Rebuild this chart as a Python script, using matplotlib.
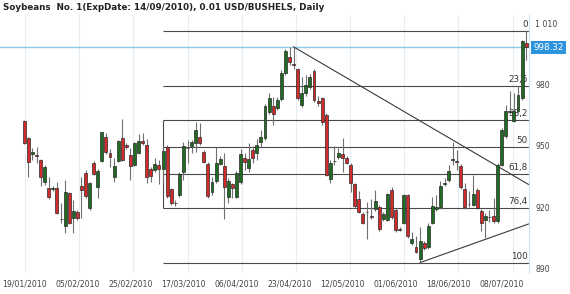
import matplotlib
matplotlib.use("Agg")
import matplotlib.pyplot as plt
import matplotlib.transforms as mtransforms
import numpy as np

title = "Soybeans  No. 1(ExpDate: 14/09/2010), 0.01 USD/BUSHELS, Daily"

opens = [962.3, 953.7, 945.8, 945.5, 942.9, 932.1, 929.3, 928.9, 929.2, 914.0,
         910.7, 926.8, 914.5, 917.7, 930.3, 936.8, 919.4, 941.7, 929.6, 942.6,
         954.5, 946.6, 934.6, 942.7, 953.7, 950.2, 945.5, 940.6, 946.7, 952.2,
         950.4, 938.6, 938.0, 940.6, 938.5, 949.6, 928.7, 921.8, 925.9, 937.3,
         948.7, 949.9, 951.5, 954.5, 947.1, 941.1, 927.5, 932.9, 941.1, 940.1,
         924.9, 931.3, 925.1, 932.4, 944.2, 939.3, 948.0, 946.3, 952.0, 953.7,
         966.4, 969.5, 968.4, 972.8, 985.5, 993.6, 990.1, 987.5, 970.0, 975.7,
         979.0, 986.8, 972.1, 973.3, 965.1, 933.6, 942.6, 944.4, 946.0, 944.2,
         940.6, 931.3, 923.8, 916.5, 917.8, 915.4, 918.9, 919.9, 914.0, 913.7,
         928.4, 918.6, 909.3, 912.4, 925.9, 902.3, 900.3, 894.4, 902.6, 900.3,
         912.2, 918.9, 919.9, 931.3, 933.4, 943.3, 942.6, 940.3, 929.0, 921.5,
         921.2, 928.5, 918.2, 913.8, 914.9, 915.5, 913.0, 940.8, 954.7, 966.8,
         962.3, 966.9, 973.4, 1000.4]
highs = [962.8, 954.2, 948.9, 949.4, 943.5, 940.6, 934.6, 930.3, 932.3, 921.9,
         933.3, 927.5, 923.5, 918.5, 934.9, 938.2, 932.5, 942.5, 938.5, 957.0,
         956.3, 948.4, 943.9, 953.0, 963.1, 951.4, 948.8, 952.0, 955.8, 956.1,
         953.2, 939.5, 944.0, 943.1, 949.6, 950.5, 929.5, 923.5, 937.0, 952.0,
         952.9, 953.0, 961.5, 961.0, 948.0, 942.0, 934.9, 949.6, 945.0, 946.3,
         934.0, 932.0, 937.5, 948.3, 946.3, 951.2, 950.1, 953.2, 957.8, 970.5,
         976.0, 974.1, 974.0, 987.0, 997.5, 998.2, 998.5, 988.0, 983.9, 984.7,
         985.0, 987.5, 974.4, 974.0, 966.0, 943.0, 950.1, 948.8, 954.0, 945.0,
         941.5, 932.0, 927.9, 917.5, 922.6, 923.8, 928.4, 921.0, 917.5, 927.0,
         930.0, 919.5, 910.0, 926.5, 926.5, 908.0, 905.8, 910.4, 903.5, 912.1,
         925.1, 926.1, 932.8, 934.2, 940.8, 951.9, 948.1, 941.0, 931.8, 927.7,
         935.9, 929.5, 919.0, 917.0, 918.7, 924.4, 941.5, 958.5, 970.1, 976.7,
         975.9, 979.1, 1002.0, 1006.1]
lows = [950.8, 934.9, 943.1, 941.4, 930.3, 930.8, 924.0, 927.9, 916.6, 912.1,
        907.2, 911.5, 907.2, 913.5, 914.5, 924.5, 918.5, 935.5, 924.3, 942.0,
        946.0, 939.8, 932.4, 942.0, 942.5, 948.4, 933.3, 940.0, 946.0, 950.5,
        931.6, 932.3, 937.0, 931.3, 932.4, 924.5, 921.0, 920.5, 925.0, 933.3,
        941.4, 946.5, 947.1, 950.5, 941.5, 924.5, 925.9, 932.0, 940.5, 914.2,
        922.0, 924.4, 924.5, 931.5, 938.2, 937.3, 941.4, 943.1, 949.6, 953.0,
        965.5, 960.2, 967.5, 972.0, 984.5, 989.6, 987.5, 972.4, 969.0, 974.5,
        978.0, 971.5, 969.5, 960.2, 935.2, 931.6, 940.6, 943.5, 937.3, 941.0,
        927.5, 919.5, 917.0, 911.5, 904.2, 914.2, 918.0, 908.5, 913.0, 913.0,
        914.0, 908.0, 908.5, 911.5, 905.0, 901.5, 897.5, 892.8, 899.0, 899.5,
        911.5, 918.0, 919.0, 930.3, 932.5, 940.6, 938.2, 929.0, 919.0, 920.0,
        920.5, 919.0, 908.1, 904.7, 912.7, 912.0, 912.0, 940.0, 954.0, 965.6,
        961.5, 966.0, 972.5, 992.2]
closes = [951.2, 941.9, 947.0, 944.8, 934.9, 939.5, 924.8, 929.3, 917.0, 914.2,
          927.4, 912.4, 918.1, 914.5, 928.4, 925.4, 931.6, 936.2, 937.7, 956.6,
          946.8, 944.4, 940.1, 952.4, 943.1, 949.4, 940.1, 951.5, 952.2, 951.2,
          934.9, 935.2, 941.1, 938.5, 947.5, 925.4, 921.9, 922.0, 936.2, 950.1,
          948.8, 952.0, 957.7, 951.5, 942.2, 925.4, 932.4, 941.7, 943.5, 929.8,
          932.8, 929.2, 936.8, 945.8, 942.2, 943.4, 943.9, 950.4, 954.2, 969.5,
          973.6, 965.6, 972.4, 985.8, 996.6, 990.9, 989.8, 973.3, 976.0, 979.8,
          983.9, 972.4, 970.8, 961.8, 935.7, 941.7, 942.7, 946.3, 944.2, 941.7,
          931.6, 920.5, 917.7, 912.4, 917.6, 915.1, 923.0, 909.1, 916.5, 926.4,
          915.0, 908.8, 909.0, 925.9, 905.8, 904.2, 898.2, 903.4, 899.8, 910.7,
          920.3, 920.0, 930.2, 931.6, 937.8, 943.6, 942.3, 929.7, 919.9, 921.4,
          926.4, 919.6, 912.2, 915.5, 915.1, 913.0, 940.8, 957.9, 966.9, 967.1,
          966.9, 975.0, 1001.2, 998.32]

date_labels = ["19/01/2010", "05/02/2010", "25/02/2010", "17/03/2010", "06/04/2010",
               "23/04/2010", "12/05/2010", "01/06/2010", "18/06/2010", "08/07/2010"]
date_label_bars = [0, 13, 26, 39, 52, 65, 78, 91, 104, 117]
y_ticks = [890, 920, 950, 980, 1010]
y_tick_labels = ["890", "920", "950", "980", "1 010"]
fib_levels = [0, 23.6, 38.2, 50, 61.8, 76.4, 100]
fib_labels = ["0", "23,6", "38,2", "50", "61,8", "76,4", "100"]
fib_start_bar = 34
trend_down_bars = [66, 124]
trend_down_values = [998.5, 930.6]
trend_up_bars = [97, 124]
trend_up_values = [892.8, 912.0]
last_price = 998.32

GREEN = "#1f6b1f"
RED = "#d42a2a"
EDGE = "#2a2a2a"
WICK = "#707070"
LINE = "#4a4a4a"
TXT = "#444444"

fig = plt.figure(figsize=(5.7, 2.94), dpi=100)
ax = fig.add_axes([0.0, 21 / 294, 529 / 570, 258 / 294])

xs = np.arange(len(opens))
o = np.array(opens); h = np.array(highs); l = np.array(lows); c = np.array(closes)

# vertical grid lines
grid_pos = 0.17 + 13.28 * np.arange(10)
for g in grid_pos:
    ax.axvline(g, color="#e3edf3", lw=0.8, zorder=0)

# last price line
ax.axhline(last_price, color="#8cc8e8", lw=1.0, zorder=1)

# fibonacci retracement
fib_hi = h.max()
fib_lo = l.min()
fib_vals = [fib_hi - (fib_hi - fib_lo) * lv / 100.0 for lv in fib_levels]
xr = 124.5
ax.hlines(fib_vals, fib_start_bar, xr, color=LINE, lw=0.8, zorder=2)
ax.vlines(fib_start_bar, fib_vals[2], fib_vals[5], color=LINE, lw=0.8, zorder=2)
trans = mtransforms.blended_transform_factory(ax.transAxes, ax.transData)
for v, lab in zip(fib_vals, fib_labels):
    ax.annotate(lab, xy=(0.998, v), xycoords=trans, xytext=(0, 1.5),
                textcoords="offset points", ha="right", va="bottom",
                fontsize=6.3, color="#333333", zorder=2)

# trend lines
ax.plot(trend_down_bars, trend_down_values, color="#3a3a3a", lw=0.8, zorder=2)
ax.plot(trend_up_bars, trend_up_values, color="#3a3a3a", lw=0.8, zorder=2)

# candles
ax.vlines(xs, l, h, color=WICK, lw=0.8, zorder=3)
colors = [GREEN if cc >= oo else RED for oo, cc in zip(o, c)]
bottoms = np.minimum(o, c)
heights = np.maximum(np.abs(c - o), 0.15)
ax.bar(xs, heights, bottom=bottoms, width=0.72, color=colors,
       edgecolor=EDGE, linewidth=0.5, zorder=4)

ax.set_xlim(-5.96, 123.7)
ax.set_ylim(887.7, 1014.1)

ax.set_xticks(date_label_bars)
ax.set_xticklabels(date_labels)
ax.yaxis.tick_right()
ax.set_yticks(y_ticks)
ax.set_yticklabels(y_tick_labels)
ax.tick_params(axis="x", length=0, pad=5, labelsize=5.6, labelcolor=TXT)
ax.tick_params(axis="y", length=0, pad=4.5, labelsize=5.6, labelcolor=TXT)
for sp in ["left", "top", "bottom"]:
    ax.spines[sp].set_visible(False)
ax.spines["right"].set_color("#cfe3ee")
ax.spines["right"].set_linewidth(0.8)

# last price box
ax.annotate(f"{last_price:.2f}", xy=(1.0, last_price), xycoords=trans,
            xytext=(3, 0), textcoords="offset points", ha="left", va="center",
            fontsize=6.3, color="white",
            bbox=dict(boxstyle="square,pad=0.25", fc="#2d93dd", ec="none"),
            annotation_clip=False, zorder=6)

fig.text(3 / 570, 1 - 8 / 294, title, ha="left", va="center",
         fontsize=6.3, fontweight="bold", color="#222222")

fig.savefig("out.png", dpi=100, facecolor="white")
